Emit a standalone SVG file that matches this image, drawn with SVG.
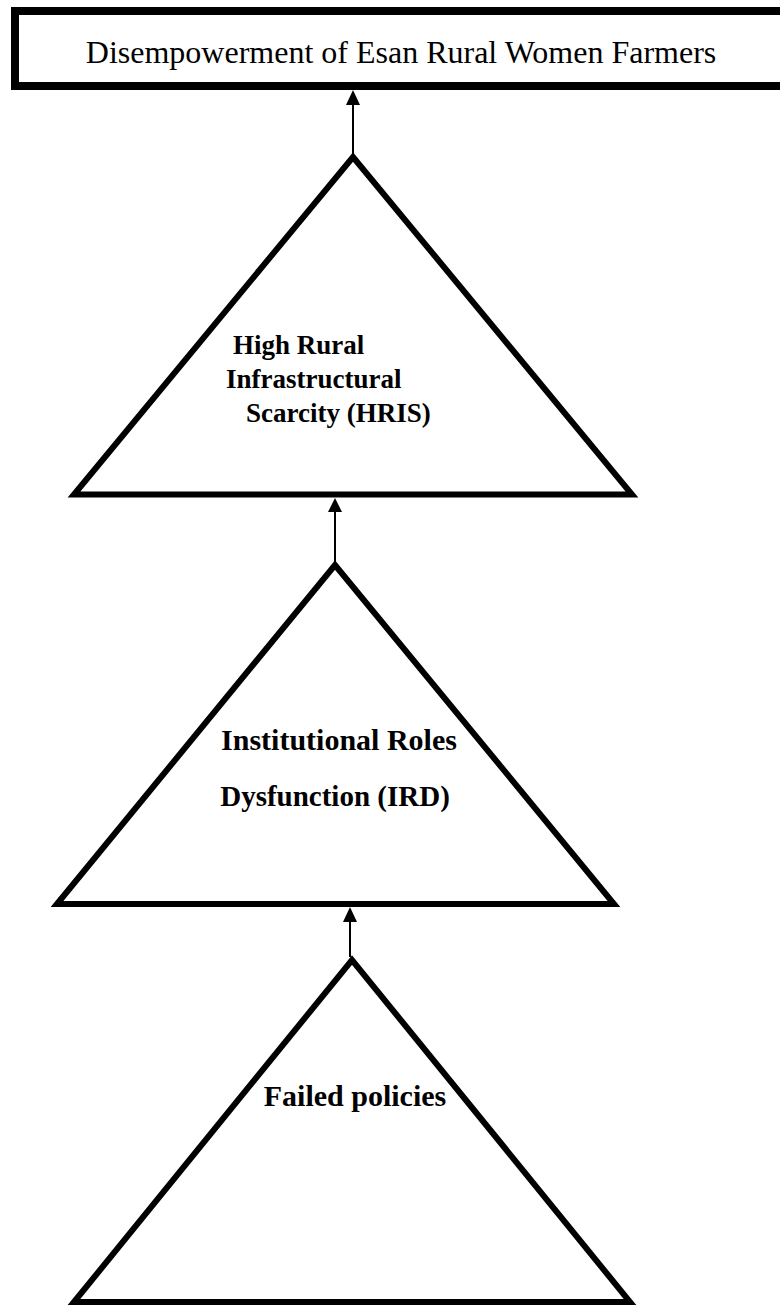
<svg xmlns="http://www.w3.org/2000/svg" width="780" height="1305" viewBox="0 0 780 1305">
<defs>
<style>
.tri{fill:#fff;stroke:#000;stroke-width:6;stroke-linejoin:miter;stroke-miterlimit:10}
.lbl{font-family:"Liberation Serif","Times New Roman",serif;font-weight:bold;fill:#000}
.conn{stroke:#000;stroke-width:2;fill:none}
.head{fill:#000}
</style>
</defs>
<rect width="780" height="1305" fill="#fff"/>
<g id="node-top">
<rect x="15" y="11" width="800" height="75" fill="#fff" stroke="#000" stroke-width="8"/>
<text x="401" y="63" text-anchor="middle" font-family="Liberation Serif, Times New Roman, serif" font-size="32" fill="#000">Disempowerment of Esan Rural Women Farmers</text>
</g>
<g id="node-hris">
<polygon class="tri" points="74,494.5 353,157 632,494.5"/>
<text class="lbl" font-size="27" x="233" y="354">High Rural</text>
<text class="lbl" font-size="27" x="226" y="388">Infrastructural</text>
<text class="lbl" font-size="27" x="246" y="422">Scarcity (HRIS)</text>
</g>
<g id="node-ird">
<polygon class="tri" points="57,904 335,565 614,904"/>
<text class="lbl" font-size="30" x="339" y="750" text-anchor="middle">Institutional Roles</text>
<text class="lbl" font-size="29" x="335" y="806" text-anchor="middle">Dysfunction (IRD)</text>
</g>
<g id="node-failed">
<polygon class="tri" points="74,1302 352,960 630,1302"/>
<text class="lbl" font-size="30" x="355" y="1106" text-anchor="middle">Failed policies</text>
</g>
<g id="connectors">
<line class="conn" x1="353" y1="154" x2="353" y2="100"/>
<polygon class="head" points="353,90 346,105 360,105"/>
<line class="conn" x1="335" y1="562" x2="335" y2="508"/>
<polygon class="head" points="335,498 328,512 342,512"/>
<line class="conn" x1="350" y1="957" x2="350" y2="917"/>
<polygon class="head" points="350,907 343,922 357,922"/>
</g>
</svg>
